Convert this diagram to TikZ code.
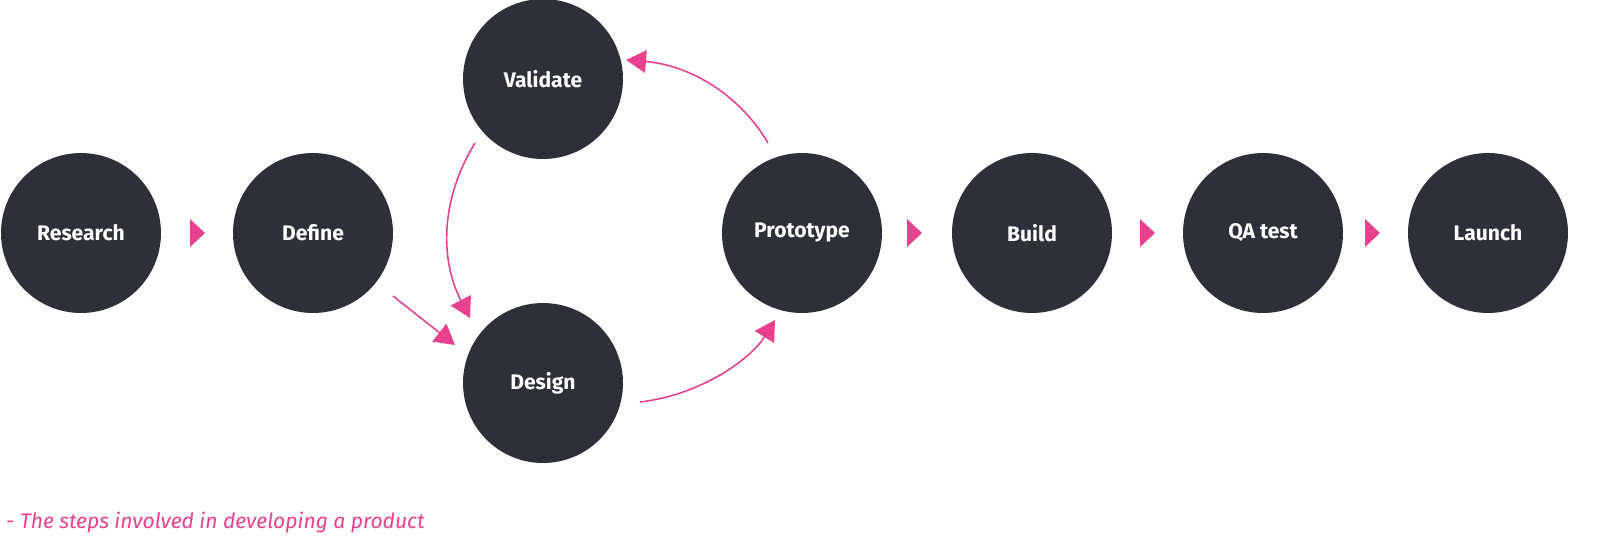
\documentclass[tikz,border=0pt]{standalone}
\usepackage{fontspec}
\setmainfont{Fira Sans}
\usetikzlibrary{arrows.meta}
\usetikzlibrary{positioning}
\definecolor{stepdark}{HTML}{2D3039}
\definecolor{steppink}{HTML}{E8428F}

\begin{document}
\begin{tikzpicture}[x=0.02cm, y=-0.02cm,
  stage/.style={circle, fill=stepdark, minimum size=3.2cm, inner sep=0pt, text=white, font=\bfseries\large},
  flow/.style={steppink, line width=0.9pt, -{Triangle[length=4mm, width=4.5mm]}},
  pointer/.style={fill=steppink}]
\useasboundingbox (0,0) rectangle (1600,552);

\node[stage] (research)  at (81,233)   {Research};
\node[stage] (define)    at (313,233)  {Define};
\node[stage] (validate)  at (543,79)   {Validate};
\node[stage] (design)    at (543,383)  {Design};
\node[stage] (prototype) at (802,233)  {Prototype};
\node[stage] (build)     at (1032,233) {Build};
\node[stage] (qatest)    at (1263,233) {QA test};
\node[stage] (launch)    at (1488,233) {Launch};

% pointers between the stages
\foreach \x in {190,907,1140,1365}
  \fill[pointer] (\x,219) -- (\x+15,233) -- (\x,247) -- cycle;

% loop round the middle
\coordinate (valout) at (475,143);
\coordinate (defout) at (393,296);
\coordinate (desout) at (640,402);
\coordinate (proout) at (768,143);
\draw[flow] (valout) .. controls (440,200) and (440,260) .. (470,318);
\draw[flow] (defout) -- (455,345);
\draw[flow] (desout) .. controls (700,395) and (750,360) .. (775,320);
\draw[flow] (proout) .. controls (740,95) and (690,65) .. (626,60);

\node[anchor=west, text=steppink, font=\itshape\large] (caption) at (0,523) {- The steps involved in developing a product};
\end{tikzpicture}
\end{document}
